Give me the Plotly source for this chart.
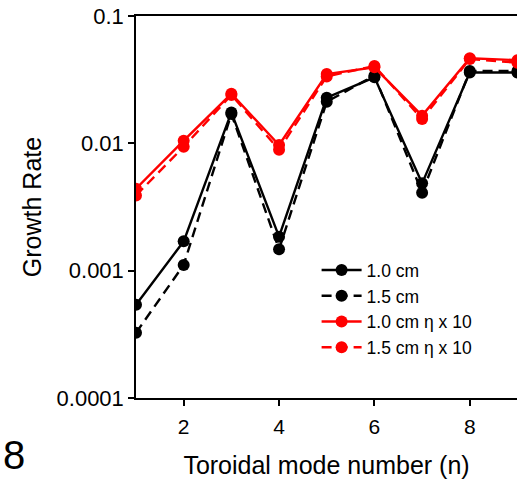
import plotly.graph_objects as go

# Data
n = [1, 2, 3, 4, 5, 6, 7, 8, 9]
g_10cm = [0.00054, 0.00170, 0.0175, 0.00185, 0.0228, 0.0330, 0.00485, 0.0360, 0.0360]
g_15cm = [0.000325, 0.00111, 0.0170, 0.00147, 0.0212, 0.0340, 0.0041, 0.0370, 0.0370]
g_10cm_eta = [0.0044, 0.0105, 0.0245, 0.0097, 0.0350, 0.0395, 0.0165, 0.0466, 0.0450]
g_15cm_eta = [0.0039, 0.0094, 0.0240, 0.0089, 0.0335, 0.0405, 0.0155, 0.0460, 0.0430]

series_names = ["1.0 cm", "1.5 cm", "1.0 cm \u03b7 x 10", "1.5 cm \u03b7 x 10"]
y_ticks = [0.0001, 0.001, 0.01, 0.1]
y_tick_text = ["0.0001", "0.001", "0.01", "0.1"]
x_ticks = [2, 4, 6, 8]

FONT = "Liberation Sans, Arial, sans-serif"

fig = go.Figure()
specs = [
    (g_10cm, series_names[0], "black", "solid"),
    (g_15cm, series_names[1], "black", "10px,6px"),
    (g_10cm_eta, series_names[2], "red", "solid"),
    (g_15cm_eta, series_names[3], "red", "10px,6px"),
]
for ys, name, color, dash in specs:
    fig.add_trace(go.Scatter(
        x=n, y=ys, name=name, mode="lines+markers",
        line=dict(color=color, width=2.4, dash=dash),
        marker=dict(color=color, size=12, symbol="circle"),
    ))

fig.update_layout(
    width=517, height=480,
    margin=dict(l=136, r=0, t=16, b=82),
    paper_bgcolor="white", plot_bgcolor="white",
    font=dict(family=FONT, size=21, color="black"),
    showlegend=True,
    legend=dict(
        x=0.474, y=0.382, xanchor="left", yanchor="top",
        bgcolor="rgba(0,0,0,0)", font=dict(size=17.5, family=FONT),
        itemwidth=40, tracegroupgap=0,
    ),
    xaxis=dict(
        range=[1, 8.99], tickvals=x_ticks, showgrid=False, zeroline=False,
        showline=True, linecolor="black", linewidth=1.5, mirror=True,
        ticks="outside", ticklen=6, tickwidth=1.5, tickcolor="black",
        ticklabelstandoff=3,
        tickfont=dict(size=21, family=FONT, color="black"),
        title=dict(text="Toroidal mode number (n)", font=dict(size=25, family=FONT), standoff=20),
    ),
    yaxis=dict(
        type="log", range=[-4, -1], tickvals=y_ticks, ticktext=y_tick_text,
        showgrid=False, zeroline=False,
        showline=True, linecolor="black", linewidth=1.5,
        ticks="outside", ticklen=6, tickwidth=1.5, tickcolor="black",
        tickfont=dict(size=22, family=FONT, color="black"),
        title=dict(text="Growth Rate", font=dict(size=25, family=FONT), standoff=8),
    ),
)

fig.add_annotation(
    text="8", xref="paper", yref="paper", x=-0.3202, y=-0.149,
    xanchor="center", yanchor="middle", showarrow=False, borderpad=0,
    font=dict(size=40, family="Liberation Sans, Arial, sans-serif", color="black"),
)

fig.write_html("out.html")
